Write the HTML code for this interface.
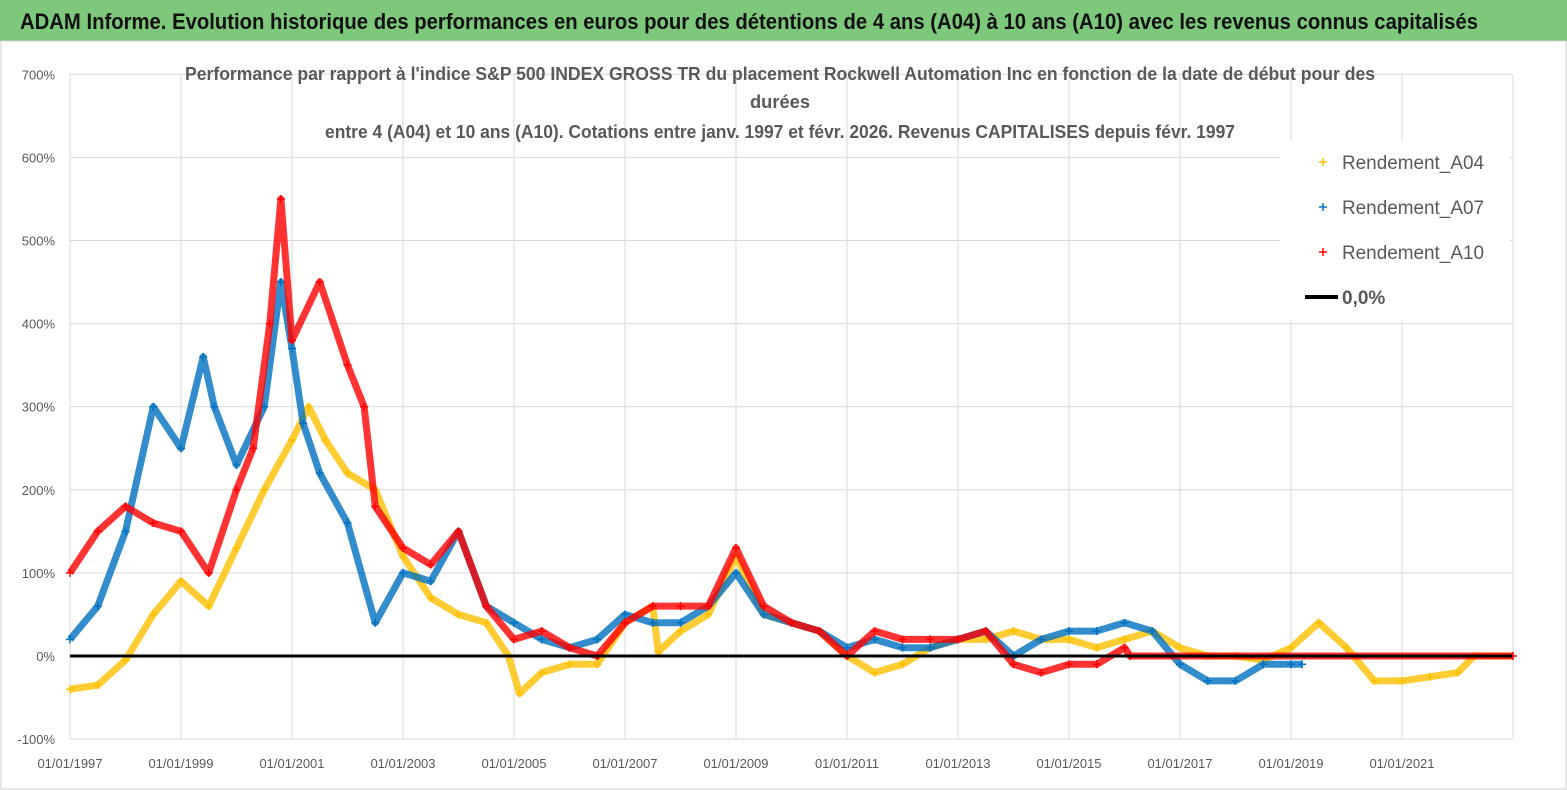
<!DOCTYPE html>
<html><head><meta charset="utf-8"><style>
body{margin:0;width:1567px;height:790px;background:#fff;overflow:hidden;font-family:"Liberation Sans",sans-serif}
svg{position:absolute;left:0;top:0}
</style></head><body>
<svg id="c" width="1567" height="790">
<rect x="0" y="0" width="1567" height="41" fill="#7ec87c"/>
<text x="20" y="29" font-size="22" font-weight="bold" fill="#111" textLength="1458" lengthAdjust="spacingAndGlyphs">ADAM Informe. Evolution historique des performances en euros pour des détentions de 4 ans (A04) à 10 ans (A10) avec les revenus connus capitalisés</text>
</svg>
<script>
const yTicks=[-100,0,100,200,300,400,500,600,700];
const xTickYears=[1997,1999,2001,2003,2005,2007,2009,2011,2013,2015,2017,2019,2021];
const datesA04=[1997,1997.5,1998,1998.5,1999,1999.5,2000,2000.5,2001,2001.3,2001.6,2002,2002.5,2003,2003.5,2004,2004.5,2004.9,2005.1,2005.5,2006,2006.5,2007,2007.5,2007.6,2008,2008.5,2009,2009.5,2010,2010.5,2011,2011.5,2012,2012.5,2013,2013.5,2014,2014.5,2015,2015.5,2016,2016.5,2017,2017.5,2018,2018.5,2019,2019.5,2020,2020.5,2021,2021.5,2022,2022.3,2023];
const valsA04=[-40,-35,-5,50,90,60,130,200,260,300,260,220,200,120,70,50,40,0,-45,-20,-10,-10,40,60,5,30,50,120,50,40,30,0,-20,-10,10,20,20,30,20,20,10,20,30,10,0,0,-5,10,40,10,-30,-30,-25,-20,0,0];
const datesA07=[1997,1997.5,1998,1998.5,1999,1999.4,1999.6,2000,2000.5,2000.8,2001,2001.2,2001.5,2002,2002.5,2003,2003.5,2004,2004.5,2005,2005.5,2006,2006.5,2007,2007.5,2008,2008.5,2009,2009.5,2010,2010.5,2011,2011.5,2012,2012.5,2013,2013.5,2014,2014.5,2015,2015.5,2016,2016.5,2017,2017.5,2018,2018.5,2019,2019.2];
const valsA07=[20,60,150,300,250,360,300,230,300,450,370,280,220,160,40,100,90,150,60,40,20,10,20,50,40,40,60,100,50,40,30,10,20,10,10,20,30,0,20,30,30,40,30,-10,-30,-30,-10,-10,-10];
const datesA10=[1997,1997.5,1998,1998.5,1999,1999.5,2000,2000.3,2000.6,2000.8,2001,2001.5,2002,2002.3,2002.5,2003,2003.5,2004,2004.5,2005,2005.5,2006,2006.5,2007,2007.5,2008,2008.5,2009,2009.5,2010,2010.5,2011,2011.5,2012,2012.5,2013,2013.5,2014,2014.5,2015,2015.5,2016,2016.1,2023];
const valsA10=[100,150,180,160,150,100,200,250,400,550,380,450,350,300,180,130,110,150,60,20,30,10,0,40,60,60,60,130,60,40,30,0,30,20,20,20,30,-10,-20,-10,-10,10,0,0];
const NS='http://www.w3.org/2000/svg',svg=document.getElementById('c');
const X=y=>70+(y-1997)*55.5, Y=v=>656-v*0.831;
function el(t,a,p){const e=document.createElementNS(NS,t);for(const k in a)e.setAttribute(k,a[k]);(p||svg).appendChild(e);return e;}
el('rect',{x:1,y:41,width:1565,height:748,fill:'none',stroke:'#d0d0d0'});
yTicks.forEach(v=>{const l=el('line',{x1:70,x2:1512,y1:Y(v),y2:Y(v),stroke:'#d9d9d9'});


const t=el('text',{x:55,y:Y(v)+5,'text-anchor':'end','font-size':13,fill:'#595959'});t.textContent=v+'%';

});
xTickYears.concat([2023]).forEach(yr=>{const l=el('line',{x1:X(yr),x2:X(yr),y1:Y(700),y2:Y(-100),stroke:'#d9d9d9'});

});
xTickYears.forEach(yr=>{const t=el('text',{x:X(yr),y:768,'text-anchor':'middle','font-size':13,fill:'#595959'});t.textContent='01/01/'+yr;

});
function series(d,v,col,name){const g=el('g',{});


el('polyline',{points:d.map((x,i)=>X(x)+','+Y(v[i])).join(' '),fill:'none',stroke:col,'stroke-width':7,'stroke-linejoin':'round','stroke-opacity':0.8},g);
d.forEach((x,i)=>{const px=X(x),py=Y(v[i]);el('path',{d:`M${px-4},${py}h8M${px},${py-4}v8`,stroke:col,'stroke-width':1.5},g);});}
series(datesA04,valsA04,'#ffc000','series-a04');
series(datesA07,valsA07,'#0070c0','series-a07');
series(datesA10,valsA10,'#ff0000','series-a10');
const z=el('line',{x1:70,x2:1512,y1:Y(0),y2:Y(0),stroke:'#000','stroke-width':3});


const titles=["Performance par rapport à l'indice S&P 500 INDEX GROSS TR  du placement Rockwell Automation Inc en fonction de la date de début pour des","durées","entre 4 (A04) et 10 ans (A10). Cotations entre janv. 1997 et févr. 2026. Revenus CAPITALISES depuis févr. 1997"];
const tx=[[185,1190],[750,60],[325,910]];
[80,108,138].forEach((y,i)=>{const t=el('text',{x:tx[i][0],y:y,'font-size':18,'font-weight':'bold',fill:'#595959',textLength:tx[i][1],lengthAdjust:'spacingAndGlyphs'});t.textContent=titles[i];

});
el('rect',{x:1280,y:140,width:230,height:180,fill:'#fff'});
[['Rendement_A04','#ffc000',162],['Rendement_A07','#0070c0',207],['Rendement_A10','#ff0000',252]].forEach(([n,c,y])=>{
const g=el('g',{});


el('path',{d:`M1319,${y}h8M1323,${y-4}v8`,stroke:c,'stroke-width':1.5},g);
const t=el('text',{x:1342,y:y+7,'font-size':19,fill:'#595959',textLength:142,lengthAdjust:'spacingAndGlyphs'},g);t.textContent=n;});
const g=el('g',{});


el('line',{x1:1305,x2:1338,y1:297,y2:297,stroke:'#000','stroke-width':4},g);
const t=el('text',{x:1342,y:304,'font-size':19,'font-weight':'bold',fill:'#595959'},g);t.textContent='0,0%';
</script>
</body></html>
